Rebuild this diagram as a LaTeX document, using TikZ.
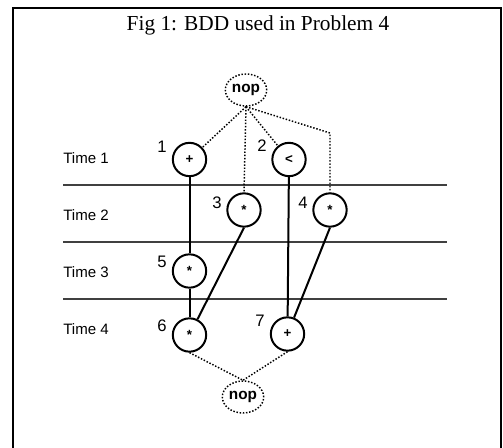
\documentclass[tikz,border=0pt]{standalone}
\usepackage{fontspec}
\setmainfont{Liberation Serif}
\setsansfont{Liberation Sans}
\usetikzlibrary{shapes.geometric}
\begin{document}
\begin{tikzpicture}[x=0.75pt,y=-0.75pt,
  opnode/.style={circle,draw,line width=1.5pt,minimum size=25pt,inner sep=0pt,font=\sffamily\bfseries\fontsize{10}{10}\selectfont},
  nopnode/.style={ellipse,draw,line width=1.1pt,dash pattern=on 1.1pt off 1.3pt,minimum width=31pt,minimum height=24pt,inner sep=0pt,font=\sffamily\bfseries\fontsize{11.5}{12}\selectfont},
  numlabel/.style={font=\sffamily\fontsize{12.5}{13}\selectfont,inner sep=0pt},
  timelabel/.style={font=\sffamily\fontsize{11.3}{12}\selectfont,anchor=west,inner sep=0pt},
  dotline/.style={line width=1.1pt,dash pattern=on 1.1pt off 1.3pt},
  solidline/.style={line width=1.5pt},
  rowline/.style={line width=0.8pt,black!75}]
\useasboundingbox (0,0) rectangle (503,448);
% frame
\draw[line width=1.6pt] (13,460) -- (13,8) -- (501,8) -- (501,460);
% title
\node[font=\fontsize{16}{18}\selectfont,inner sep=0pt] (title) at (258,25) {Fig 1: BDD used in Problem 4};
% row separators
\draw[rowline] (63,185) -- (447,185);
\draw[rowline] (63,242) -- (447,242);
\draw[rowline] (63,299) -- (447,299);
% time labels
\node[timelabel] (t1) at (63,158) {Time 1};
\node[timelabel] (t2) at (63,215) {Time 2};
\node[timelabel] (t3) at (63,272) {Time 3};
\node[timelabel] (t4) at (63,329) {Time 4};
% nodes
\node[nopnode,fill=white] (top) at (246,90) {nop};
\node[opnode] (n1) at (189.5,159.5) {+};
\node[opnode] (n2) at (289,159.5) {<};
\node[opnode] (n3) at (244,210) {\raisebox{-3pt}{*}};
\node[opnode] (n4) at (330,210) {\raisebox{-3pt}{*}};
\node[opnode] (n5) at (189.5,271) {\raisebox{-3pt}{*}};
\node[opnode] (n6) at (189.5,335) {\raisebox{-3pt}{*}};
\node[opnode] (n7) at (287.5,334) {+};
\node[nopnode] (bot) at (243,397) {nop};
% number labels
\node[numlabel] (l1) at (162,147) {1};
\node[numlabel] (l2) at (262,146) {2};
\node[numlabel] (l3) at (217,203) {3};
\node[numlabel] (l4) at (303,203) {4};
\node[numlabel] (l5) at (162,262) {5};
\node[numlabel] (l6) at (162,326) {6};
\node[numlabel] (l7) at (260,321) {7};
% dotted connectors
\coordinate (bend) at (330,133);
\draw[dotline] (top.south) -- (n1);
\draw[dotline] (top.south) -- (n3.north);
\draw[dotline] (top.south) -- (n2);
\draw[dotline] (top.south) -- (bend) -- (n4.north);
\draw[dotline] (n6.south) -- (bot.north);
\draw[dotline] (n7.south) -- (bot.north);
% solid connectors
\draw[solidline] (n1) -- (n5);
\draw[solidline] (n5) -- (n6);
\draw[solidline] (n3.south) -- (n6);
\draw[solidline] (n2) -- (n7);
\draw[solidline] (n4.south) -- (n7);
\end{tikzpicture}
\end{document}
